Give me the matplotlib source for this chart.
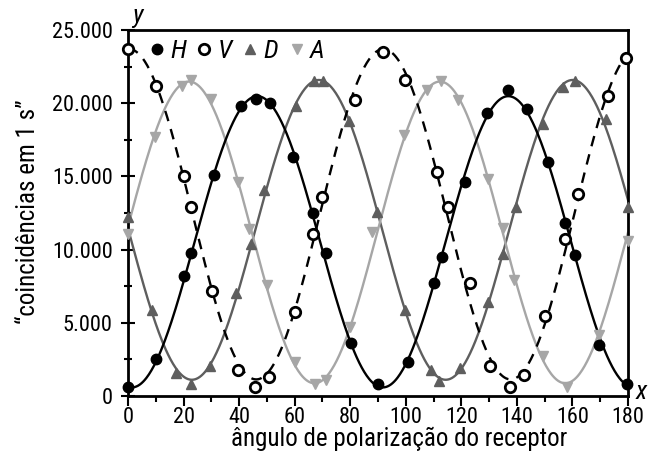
import numpy as np
import matplotlib
matplotlib.use("Agg")
import matplotlib.pyplot as plt
from matplotlib import font_manager as fm
from matplotlib.ticker import FuncFormatter, MultipleLocator
from matplotlib.lines import Line2D

names = {f.name for f in fm.fontManager.ttflist}
stretch = 'normal'
for cand in ['Roboto Condensed', 'Liberation Sans Narrow', 'DejaVu Sans']:
    if cand in names:
        fam = cand
        break
if fam == 'DejaVu Sans':
    stretch = 'condensed'
plt.rcParams['font.family'] = [fam, 'DejaVu Sans']
plt.rcParams['font.stretch'] = stretch

# data (angle in degrees, coincidences per second)
h_x = [0, 10, 20.2, 22.7, 31, 40.7, 46.1, 51.1, 59.3, 66.5, 71.2, 80.3, 89.9,
       100.9, 110, 113, 121.4, 129.4, 136.8, 143.6, 151.2, 157.3, 160.8, 169.6, 179.8]
h_y = [600, 2500, 8200, 9800, 15100, 19800, 20300, 20000, 16300, 12500, 9800, 3650, 800,
       2300, 7700, 9500, 14600, 19300, 20900, 19600, 16000, 11800, 9600, 3500, 800]

v_x = [0, 10, 20.2, 22.7, 30.1, 39.7, 45.8, 50.6, 60.1, 66.5, 70, 81.7, 91.9,
       99.7, 111.4, 115.1, 123.1, 130.3, 137.5, 142.7, 150.3, 157.5, 162.1, 172.7, 179.3]
v_y = [23700, 21200, 15000, 12900, 7200, 1780, 600, 1300, 5760, 11100, 13600, 20200, 23500,
       21600, 15300, 12900, 7700, 2050, 600, 1430, 5460, 10700, 13800, 20500, 23100]

d_x = [0, 8.5, 17.3, 22.6, 29.5, 39, 44.2, 49, 60.5, 67, 70.3, 79.7, 89.5,
       99.7, 109, 112, 119.5, 129.7, 135.1, 139.7, 149.5, 156.7, 160.9, 172, 180]
d_y = [12200, 5850, 1550, 800, 2050, 7060, 10400, 14100, 19800, 21500, 21500, 18800, 12600,
       5900, 1800, 1050, 1930, 6440, 9700, 12900, 18600, 21100, 21500, 18900, 12900]

a_x = [0, 9.7, 19.3, 22.6, 29.7, 39.7, 43.7, 49.9, 60.1, 67.3, 71.3, 79.9, 87.9,
       99.4, 107.5, 112.7, 118.9, 129.7, 134.9, 139.1, 149.5, 157.9, 169.6, 180]
a_y = [11100, 17700, 21200, 21600, 20300, 14600, 11400, 7600, 2350, 800, 1100, 4700, 11200,
       17800, 20900, 21500, 20200, 14800, 11450, 7900, 2700, 600, 4200, 10600]

x_ticks = [0, 20, 40, 60, 80, 100, 120, 140, 160, 180]
y_ticks = [0, 5000, 10000, 15000, 20000, 25000]


def fit_curve(x, y, xx):
    x = np.asarray(x, float); y = np.asarray(y, float)
    best = None
    for P in np.linspace(85, 95, 201):
        w = 2 * np.pi / P
        M = np.column_stack([np.ones_like(x), np.cos(w * x), np.sin(w * x)])
        coef, res, *_ = np.linalg.lstsq(M, y, rcond=None)
        r = np.sum((M @ coef - y) ** 2)
        if best is None or r < best[0]:
            best = (r, P, coef)
    _, P, coef = best
    w = 2 * np.pi / P
    return coef[0] + coef[1] * np.cos(w * xx) + coef[2] * np.sin(w * xx)


fig = plt.figure(figsize=(6.62, 4.68), dpi=100)
ax = fig.add_axes([0.1934, 0.1538, 0.7552, 0.7821])

xx = np.linspace(0, 180, 600)
c_h, c_v, c_d, c_a = 'black', 'black', '#5e5e5e', '#a6a6a6'
lw = 1.7
ax.plot(xx, fit_curve(d_x, d_y, xx), color=c_d, lw=lw, zorder=2)
ax.plot(xx, fit_curve(a_x, a_y, xx), color=c_a, lw=lw, zorder=2)
ax.plot(xx, fit_curve(h_x, h_y, xx), color=c_h, lw=lw, zorder=3)
ax.plot(xx, fit_curve(v_x, v_y, xx), color=c_v, lw=lw, ls=(0, (4.5, 3.5)), zorder=3)

ms = 7.5
ax.plot(d_x, d_y, ls='none', marker='^', ms=ms, color=c_d, zorder=4, clip_on=False)
ax.plot(a_x, a_y, ls='none', marker='v', ms=ms, color=c_a, zorder=4, clip_on=False)
ax.plot(h_x, h_y, ls='none', marker='o', ms=ms, color=c_h, zorder=5, clip_on=False)
ax.plot(v_x, v_y, ls='none', marker='o', ms=ms, mfc='white', mec='black', mew=2,
        zorder=5, clip_on=False)

ax.set_xlim(0, 180)
ax.set_ylim(0, 25000)
ax.set_xticks(x_ticks)
ax.set_yticks(y_ticks)
ax.xaxis.set_minor_locator(MultipleLocator(10))
ax.yaxis.set_minor_locator(MultipleLocator(2500))
ax.yaxis.set_major_formatter(FuncFormatter(lambda v, p: f"{int(v):,}".replace(',', '.')))
ax.tick_params(axis='both', which='both', labelsize=16, width=1.5, colors='black')
ax.tick_params(axis='x', which='major', direction='out', length=7, pad=1)
ax.tick_params(axis='x', which='minor', direction='out', length=4)
ax.tick_params(axis='y', which='major', direction='inout', length=10, pad=6)
ax.tick_params(axis='y', which='minor', direction='inout', length=6)
for s in ax.spines.values():
    s.set_linewidth(2)

ax.set_xlabel('ângulo de polarização do receptor', fontsize=18)
ax.xaxis.set_label_coords(0.542, -0.084)
ax.set_ylabel('“coincidências em 1 s”', fontsize=18)
ax.yaxis.set_label_coords(-0.176, 0.503)
ax.text(0.008, 1.005, 'y', transform=ax.transAxes, fontsize=19, style='italic',
        ha='left', va='bottom')
ax.text(1.015, 0.01, 'x', transform=ax.transAxes, fontsize=19, style='italic',
        ha='left', va='center')

handles = [
    Line2D([], [], ls='none', marker='o', ms=ms, color=c_h),
    Line2D([], [], ls='none', marker='o', ms=ms, mfc='white', mec='black', mew=2),
    Line2D([], [], ls='none', marker='^', ms=ms, color=c_d),
    Line2D([], [], ls='none', marker='v', ms=ms, color=c_a),
]
leg = ax.legend(handles, ['H', 'V', 'D', 'A'], loc='upper left', ncol=4, frameon=False,
                bbox_to_anchor=(0.002, 1.025), handlelength=0.7, handletextpad=0.15,
                columnspacing=0.35, borderpad=0.2, prop={'size': 19, 'style': 'italic'})

fig.savefig('out.png', dpi=100)
